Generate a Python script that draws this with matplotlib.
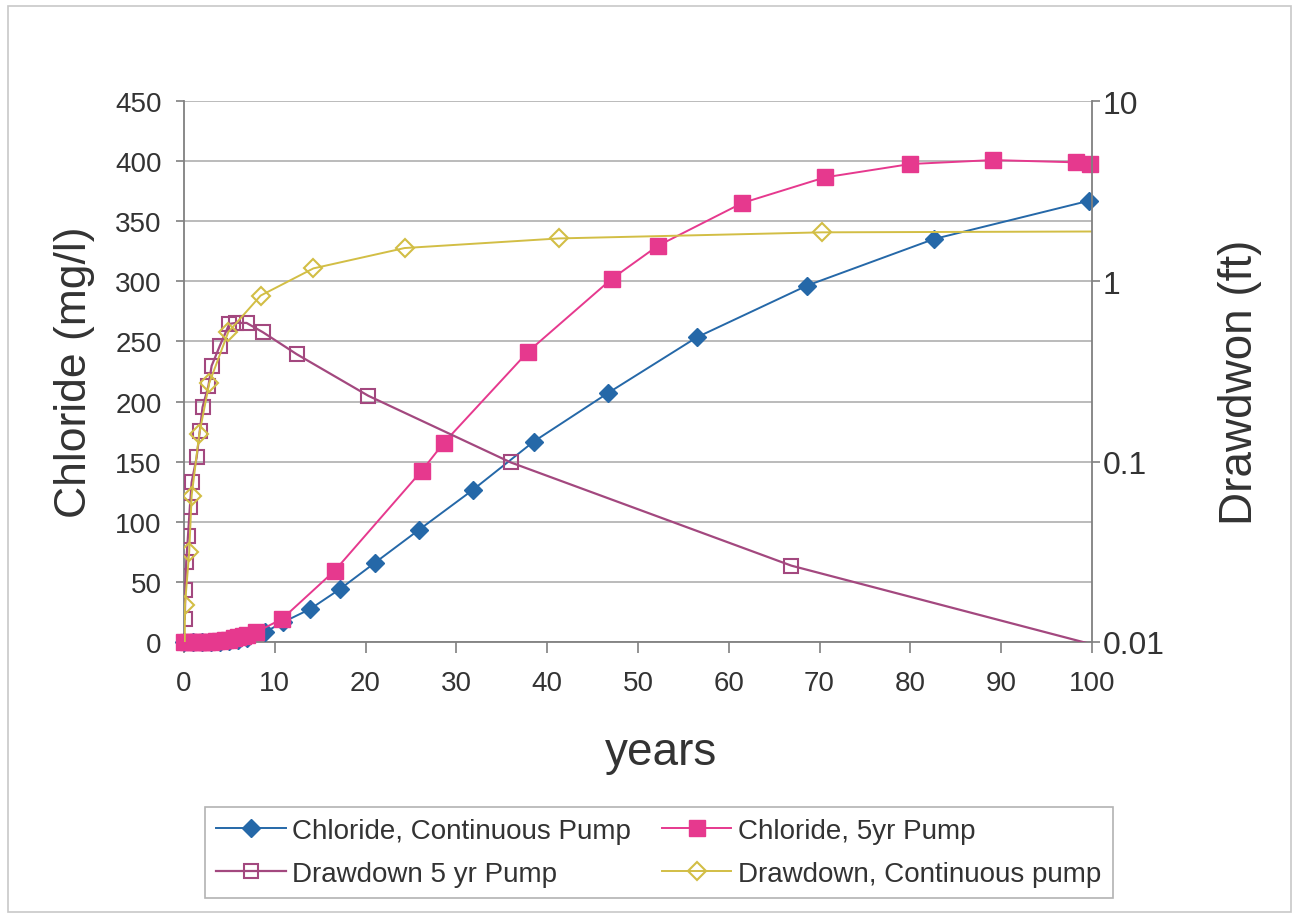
import matplotlib
matplotlib.use("Agg")
import matplotlib.pyplot as plt
from matplotlib.patches import Rectangle
from matplotlib.ticker import FixedLocator, NullLocator

# ---------------- data ----------------
cl_cont_x = [0, 1, 2, 3, 4, 5, 6, 7, 8.9, 10.9, 13.9, 17.2, 21.0, 25.9, 31.8, 38.5, 46.7, 56.5, 68.6, 82.6, 99.7]
cl_cont_y = [0, 0, 0, 0, 0.3, 0.8, 1.8, 3.5, 8.1, 16.4, 27.4, 44.1, 65.7, 93.4, 126.4, 166.6, 207.1, 253.5, 296.4, 335.2, 367.1]

cl_5yr_x = [0, 0.5, 1, 1.5, 2, 2.5, 3, 3.5, 4, 4.5, 5, 5.5, 6, 6.5, 7, 7.9, 10.8, 16.6, 26.2, 28.6, 37.9, 47.1, 52.2, 61.5, 70.6, 80.0, 89.1, 98.2, 99.8]
cl_5yr_y = [0, 0, 0, 0, 0, 0, 0.3, 0.5, 1, 1.5, 2, 3, 4, 5, 6, 8.1, 19.1, 59.3, 142.5, 165.5, 241.5, 302, 329.6, 365.2, 386.5, 397.6, 400.9, 399, 397.6]

dd_5yr_x = [0.1, 0.15, 0.25, 0.45, 0.65, 0.85, 1.4, 1.75, 2.05, 2.7, 3.05, 3.95, 5.0, 5.7, 6.9, 8.7, 12.4, 20.3, 36.0, 66.9, 100]
dd_5yr_y = [0.0134, 0.0193, 0.0277, 0.0389, 0.0558, 0.0769, 0.1057, 0.1486, 0.2005, 0.264, 0.340, 0.439, 0.581, 0.588, 0.588, 0.522, 0.395, 0.232, 0.099, 0.0265, 0.0097]

dd_cont_x = [0.0, 0.11, 0.58, 0.85, 1.69, 2.79, 4.88, 8.45, 14.26, 24.3, 41.3, 70.3, 100]
dd_cont_y = [0.001, 0.016, 0.0314, 0.0648, 0.1426, 0.273, 0.523, 0.834, 1.18, 1.53, 1.73, 1.87, 1.89]

x_ticks = [0, 10, 20, 30, 40, 50, 60, 70, 80, 90, 100]
y_ticks = [0, 50, 100, 150, 200, 250, 300, 350, 400, 450]
y2_ticks = [0.01, 0.1, 1, 10]
y2_labels = ["0.01", "0.1", "1", "10"]

labels = ["Chloride, Continuous Pump", "Chloride, 5yr Pump",
          "Drawdown 5 yr Pump", "Drawdown, Continuous pump"]

# ---------------- style ----------------
plt.rcParams['font.family'] = ['Liberation Sans', 'DejaVu Sans']
BLUE = "#2568A8"
PINK = "#E6398E"
PURPLE = "#A3487F"
YELLOW = "#D2BE45"
AXC = "#808080"
TXT = "#333333"

fig = plt.figure(figsize=(12.99, 9.20), dpi=100)
fig.patch.set_facecolor("white")
fig.add_artist(Rectangle((0.006, 0.008), 0.988, 0.984, transform=fig.transFigure,
                         fill=False, edgecolor="#C8C8C8", linewidth=1.2))

ax = fig.add_axes([0.1416, 0.3011, 0.6990, 0.5880])
ax2 = ax.twinx()

ax.set_xlim(0, 100)
ax.set_ylim(0, 450)
ax2.set_yscale("log")
ax2.set_ylim(0.01, 10)

# grid
ax.yaxis.grid(True, color="#A8A8A8", linewidth=1.1)
ax.xaxis.grid(False)
ax.set_axisbelow(True)

# chloride series (left axis)
l1, = ax.plot(cl_cont_x, cl_cont_y, color=BLUE, linewidth=1.4, marker="D",
              markersize=9.5, markerfacecolor=BLUE, markeredgecolor=BLUE,
              clip_on=False, zorder=3)
l2, = ax.plot(cl_5yr_x, cl_5yr_y, color=PINK, linewidth=1.4, marker="s",
              markersize=11, markerfacecolor=PINK, markeredgecolor=PINK,
              clip_on=False, zorder=3)

# drawdown series (right axis)
l3, = ax2.plot(dd_5yr_x, dd_5yr_y, color=PURPLE, linewidth=1.6, marker="s",
               markersize=10, markerfacecolor="none", markeredgecolor=PURPLE,
               markeredgewidth=1.5, markevery=list(range(len(dd_5yr_x) - 1)))
l4, = ax2.plot(dd_cont_x, dd_cont_y, color=YELLOW, linewidth=1.4, marker="D",
               markersize=9, markerfacecolor="none", markeredgecolor=YELLOW,
               markeredgewidth=1.5, markevery=list(range(1, len(dd_cont_x) - 1)))

# spines
for a in (ax, ax2):
    a.spines["top"].set_visible(False)
    for s in ("left", "right", "bottom"):
        a.spines[s].set_color(AXC)
        a.spines[s].set_linewidth(1.3)
ax.spines["right"].set_visible(False)
ax2.spines["left"].set_visible(False)
ax2.spines["bottom"].set_visible(False)

ax.set_xticks(x_ticks)
ax.set_xticklabels([str(v) for v in x_ticks])
ax.set_yticks(y_ticks)
ax.set_yticklabels([str(v) for v in y_ticks])
ax.tick_params(axis="x", direction="out", length=8, width=1.2, color=AXC,
               labelsize=20, labelcolor=TXT, pad=12)
ax.tick_params(axis="y", direction="out", length=6, width=1.2, color=AXC,
               labelsize=20, labelcolor=TXT, pad=10)

ax2.yaxis.set_major_locator(FixedLocator(y2_ticks))
ax2.yaxis.set_minor_locator(NullLocator())
ax2.set_yticklabels(y2_labels)
ax2.tick_params(axis="y", direction="out", length=6, width=1.2, color=AXC,
                labelsize=23, labelcolor=TXT, pad=2)

# axis titles
fig.text(75 / 1299, 1 - 372 / 920, "Chloride (mg/l)", rotation=90,
         ha="center", va="center", fontsize=32, color=TXT)
fig.text(1240 / 1299, 1 - 382 / 920, "Drawdwon (ft)", rotation=90,
         ha="center", va="center", fontsize=33, color=TXT)
fig.text(661 / 1299, 1 - 753 / 920, "years", ha="center", va="center",
         fontsize=33, color=TXT)

leg = fig.legend([l1, l3, l2, l4], [labels[0], labels[2], labels[1], labels[3]],
                 ncol=2, loc="upper left",
                 bbox_to_anchor=(205 / 1299, 1 - 808 / 920),
                 fontsize=20, frameon=True, fancybox=False, edgecolor="#A0A0A0",
                 handlelength=2.5, columnspacing=1.1, labelspacing=0.6,
                 borderpad=0.4, handletextpad=0.25, borderaxespad=0)
leg.get_frame().set_linewidth(1.2)
for t in leg.get_texts():
    t.set_color(TXT)

fig.savefig("out.png", dpi=100, facecolor="white")
